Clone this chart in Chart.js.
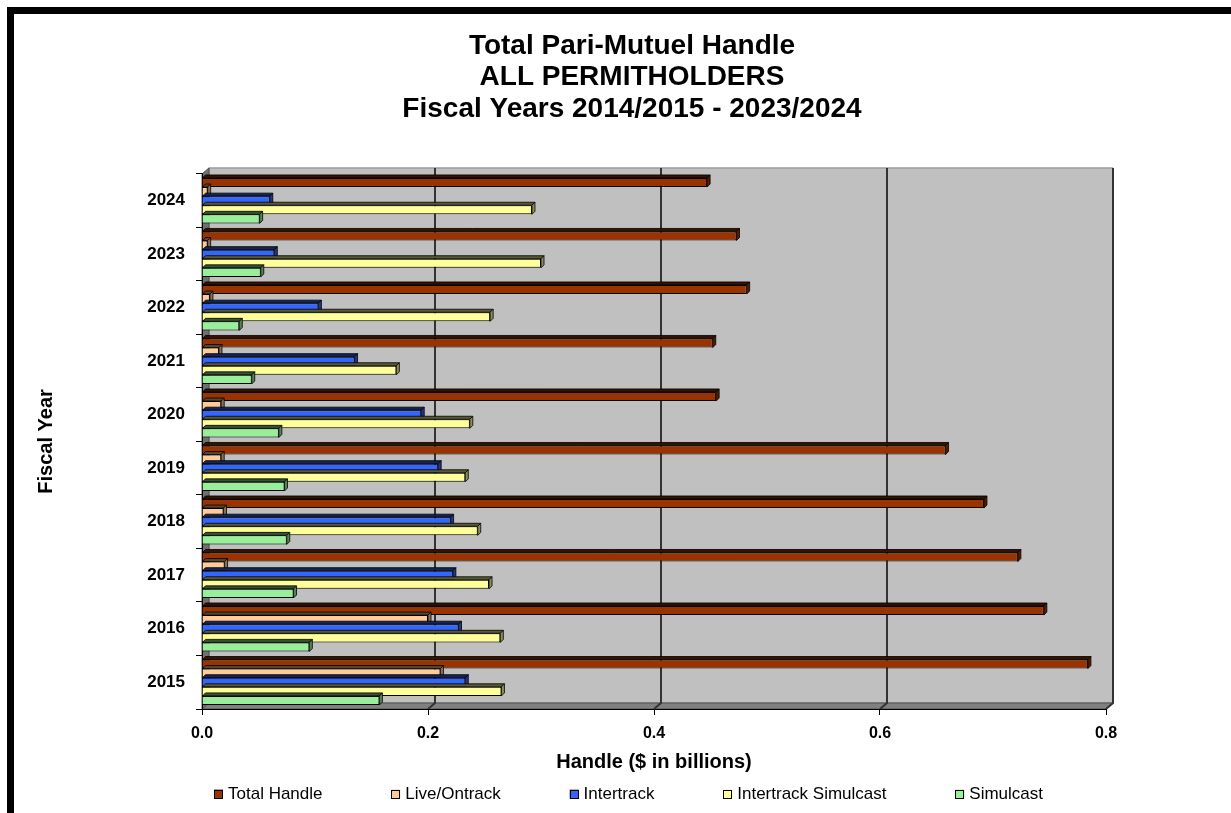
<!DOCTYPE html>
<html>
<head>
<meta charset="utf-8">
<script src="https://cdn.jsdelivr.net/npm/chart.js@4.4.1/dist/chart.umd.min.js"></script>
<style>
  body { margin: 0; background: #fff; }
  #wrap { position: relative; width: 1231px; height: 813px; overflow: hidden; background: #fff; }
  .frame { position: absolute; background: #000; }
</style>
</head>
<body>
<div id="wrap">
  <canvas id="chart" width="1231" height="813"></canvas>
  <div class="frame" style="left:7px;top:7px;width:1224px;height:7px"></div>
  <div class="frame" style="left:7px;top:7px;width:7px;height:806px"></div>
</div>
<script>
// fiscal years, bottom to top
const years = ['2015', '2016', '2017', '2018', '2019', '2020', '2021', '2022', '2023', '2024'];

// handle, $ billions
const totalHandle = [0.784, 0.745, 0.722, 0.692, 0.658, 0.455, 0.452, 0.482, 0.473, 0.447];
const liveOntrack = [0.211, 0.200, 0.020, 0.019, 0.017, 0.017, 0.015, 0.007, 0.005, 0.005];
const intertrack = [0.233, 0.227, 0.222, 0.220, 0.209, 0.194, 0.135, 0.103, 0.064, 0.060];
const intertrackSimulcast = [0.265, 0.264, 0.254, 0.244, 0.233, 0.237, 0.172, 0.255, 0.300, 0.292];
const simulcast = [0.157, 0.095, 0.081, 0.075, 0.073, 0.068, 0.044, 0.033, 0.052, 0.051];

const seriesNames = ['Total Handle', 'Live/Ontrack', 'Intertrack', 'Intertrack Simulcast', 'Simulcast'];
const seriesValues = [totalHandle, liveOntrack, intertrack, intertrackSimulcast, simulcast];
const seriesColors = ['#993300', '#FFCC99', '#3366FF', '#FFFF99', '#99EE99'];

const FONT = "'Liberation Sans', Arial, sans-serif";
const DX = 7, DY = 6; // wall depth

function shade(hex, f) {
  const n = parseInt(hex.slice(1), 16);
  const r = Math.round(((n >> 16) & 255) * f);
  const g = Math.round(((n >> 8) & 255) * f);
  const b = Math.round((n & 255) * f);
  return `rgb(${r},${g},${b})`;
}

function poly(ctx, pts, fill, stroke) {
  ctx.beginPath();
  ctx.moveTo(pts[0][0], pts[0][1]);
  for (let i = 1; i < pts.length; i++) ctx.lineTo(pts[i][0], pts[i][1]);
  ctx.closePath();
  if (fill) { ctx.fillStyle = fill; ctx.fill(); }
  if (stroke) { ctx.strokeStyle = stroke; ctx.stroke(); }
}

// gray back wall, side wall, floor and the grid lines on them
const walls = {
  id: 'walls',
  beforeDraw(chart) {
    const { ctx, chartArea: a } = chart;
    const xs = chart.scales.x;
    ctx.save();
    ctx.lineWidth = 1;
    poly(ctx, [[a.left + DX, a.top - DY], [a.right + DX, a.top - DY], [a.right + DX, a.bottom - DY], [a.left + DX, a.bottom - DY]], '#C0C0C0', '#808080');
    poly(ctx, [[a.left, a.top], [a.left + DX, a.top - DY], [a.left + DX, a.bottom - DY], [a.left, a.bottom]], '#707070', '#505050');
    poly(ctx, [[a.left, a.bottom], [a.left + DX, a.bottom - DY], [a.right + DX, a.bottom - DY], [a.right, a.bottom]], '#808080', '#505050');
    ctx.strokeStyle = '#333';
    ctx.lineWidth = 2;
    xs.ticks.forEach(t => {
      if (t.value <= 0) return;
      const x = xs.getPixelForValue(t.value);
      ctx.beginPath();
      ctx.moveTo(x + DX, a.top - DY);
      ctx.lineTo(x + DX, a.bottom - DY);
      ctx.lineTo(x, a.bottom);
      ctx.stroke();
    });
    ctx.restore();
  }
};

// top and end faces of the bars
const bar3d = {
  id: 'bar3d',
  afterDatasetsDraw(chart) {
    const ctx = chart.ctx;
    const d = 3;
    ctx.save();
    ctx.lineWidth = 1;
    chart.data.datasets.forEach((ds, i) => {
      chart.getDatasetMeta(i).data.forEach(bar => {
        const { x, y, base, height } = bar.getProps(['x', 'y', 'base', 'height'], true);
        const top = y - height / 2, bottom = y + height / 2;
        poly(ctx, [[base, top], [base + d, top - d], [x + d, top - d], [x, top]], shade(ds.backgroundColor, 0.35), 'rgba(0,0,0,0.8)');
        poly(ctx, [[x, top], [x + d, top - d], [x + d, bottom - d], [x, bottom]], shade(ds.backgroundColor, 0.55), 'rgba(0,0,0,0.8)');
      });
    });
    ctx.restore();
  }
};

// legend spread across the bottom like the original
const spreadLegend = {
  id: 'spreadLegend',
  afterDraw(chart) {
    const ctx = chart.ctx;
    ctx.save();
    ctx.font = `17px ${FONT}`;
    ctx.textBaseline = 'middle';
    const box = 9, gap = 5;
    const widths = seriesNames.map(n => box + gap + ctx.measureText(n).width);
    const startX = 214, endX = 1043, cy = 794;
    const space = (endX - startX - widths.reduce((s, w) => s + w, 0)) / (widths.length - 1);
    let x = startX;
    seriesNames.forEach((n, i) => {
      ctx.fillStyle = seriesColors[i];
      ctx.fillRect(x, cy - box / 2, box, box);
      ctx.strokeStyle = '#000';
      ctx.lineWidth = 1;
      ctx.strokeRect(Math.round(x) + 0.5, Math.round(cy - box / 2) + 0.5, box - 1, box - 1);
      ctx.fillStyle = '#000';
      ctx.fillText(n, x + box + gap, cy);
      x += widths[i] + space;
    });
    ctx.restore();
  }
};

new Chart(document.getElementById('chart'), {
  type: 'bar',
  data: {
    labels: years,
    datasets: seriesNames.map((n, i) => ({
      label: n,
      data: seriesValues[i],
      backgroundColor: seriesColors[i],
      borderColor: '#000',
      borderWidth: 1,
      yAxisID: 'y',
      categoryPercentage: 0.85,
      barPercentage: 1.0
    }))
  },
  options: {
    indexAxis: 'y',
    responsive: false,
    animation: false,
    layout: { padding: { left: 33, right: 0, top: 0, bottom: 36 } },
    plugins: {
      legend: { display: false },
      tooltip: { enabled: false },
      title: {
        display: true,
        text: ['Total Pari-Mutuel Handle', 'ALL PERMITHOLDERS', 'Fiscal Years 2014/2015 - 2023/2024'],
        color: '#000',
        font: { family: FONT, size: 28, weight: 'bold', lineHeight: 1.13 },
        padding: { top: 30, bottom: 49 }
      }
    },
    scales: {
      x: {
        min: 0,
        max: 0.8,
        ticks: {
          stepSize: 0.2,
          color: '#000',
          padding: 9,
          font: { family: FONT, size: 16, weight: 'bold' },
          callback: v => Number(v).toFixed(1)
        },
        grid: { drawOnChartArea: false, drawTicks: true, tickLength: 6, color: '#000' },
        border: { color: '#000', width: 1 },
        title: {
          display: true,
          text: 'Handle ($ in billions)',
          color: '#000',
          font: { family: FONT, size: 20, weight: 'bold' },
          padding: { top: 0, bottom: 3 }
        },
        afterFit: s => { s.height = 68; }
      },
      y: {
        reverse: true,
        offset: true,
        ticks: {
          color: '#000',
          padding: 11,
          font: { family: FONT, size: 17, weight: 'bold' }
        },
        grid: { offset: true, drawOnChartArea: false, drawTicks: true, tickLength: 6, color: '#000' },
        border: { color: '#000', width: 1 },
        title: {
          display: true,
          text: 'Fiscal Year',
          color: '#000',
          font: { family: FONT, size: 20, weight: 'bold' },
          padding: { top: 1, bottom: 0 }
        },
        afterFit: s => { s.width = 169; }
      },
      y2: {
        type: 'category',
        labels: [''],
        position: 'right',
        grid: { display: false },
        border: { display: false },
        ticks: { display: false },
        afterFit: s => { s.width = 125; }
      }
    }
  },
  plugins: [walls, bar3d, spreadLegend]
});
</script>
</body>
</html>
